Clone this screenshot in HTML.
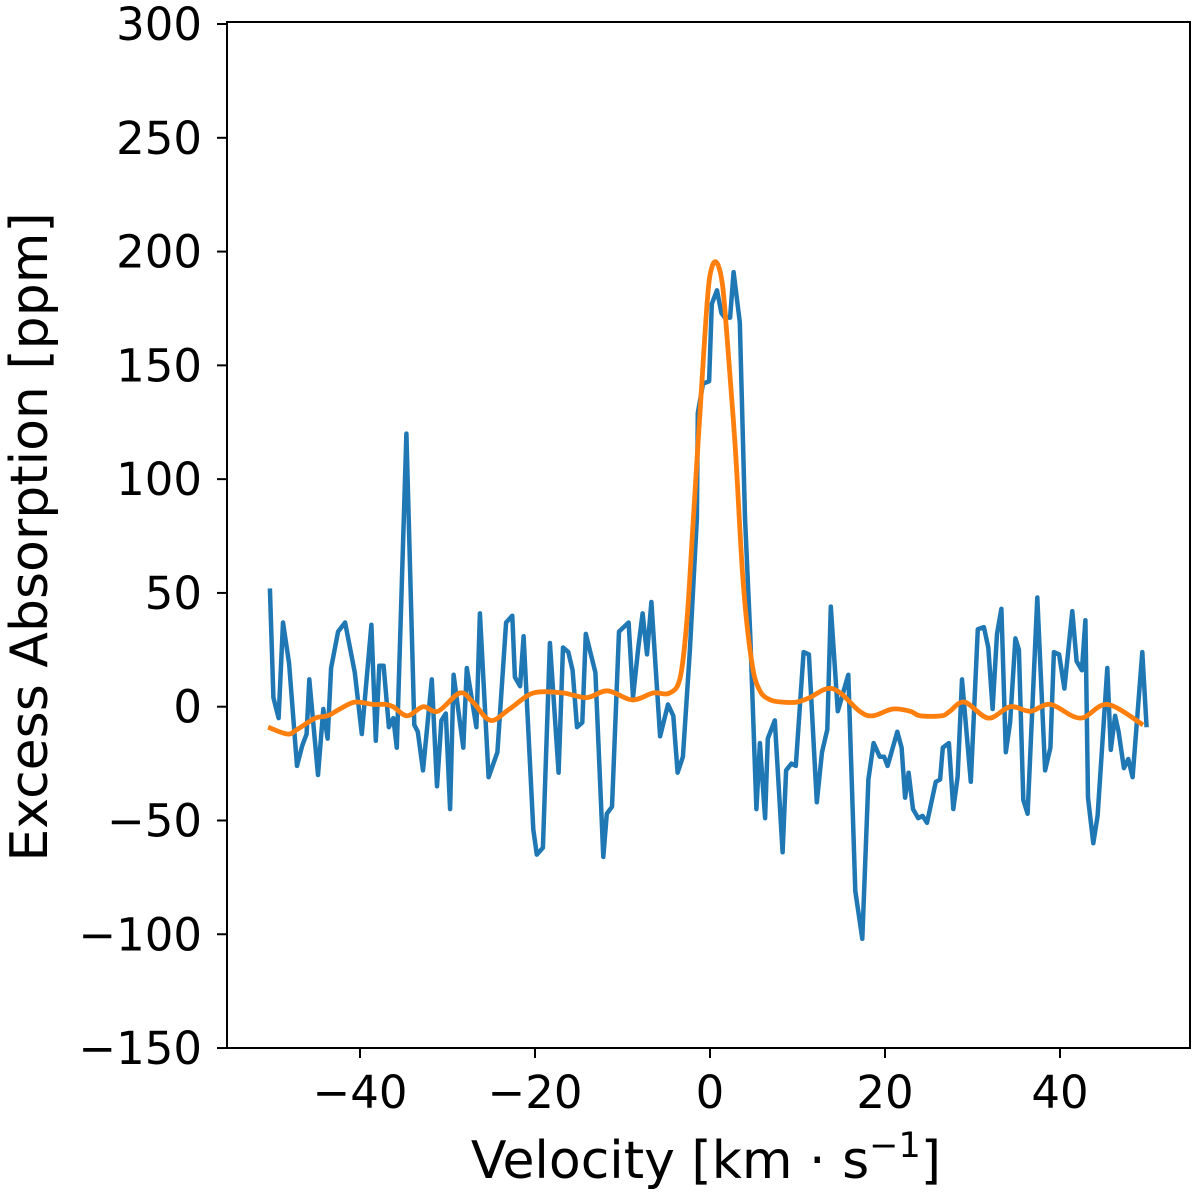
<!DOCTYPE html>
<html><head><meta charset="utf-8"><style>
body{margin:0;background:#fff;}
svg text{font-family:"DejaVu Sans","Liberation Sans",sans-serif;fill:#000;}
</style></head><body>
<svg id="chart" width="1200" height="1195" viewBox="0 0 1200 1195" xmlns="http://www.w3.org/2000/svg">
<g id="plot"></g>
<g id="axes"></g>
<text x="706" y="1178" font-size="52" text-anchor="middle">Velocity [km · s<tspan font-size="35" dy="-21">−1</tspan><tspan dy="21">]</tspan></text>
<text transform="translate(47,537) rotate(-90)" font-size="52" text-anchor="middle">Excess Absorption [ppm]</text>
</svg>
<script>
const xTicks=[-40,-20,0,20,40];
const xTickLabels=["−40","−20","0","20","40"];
const yTicks=[-150,-100,-50,0,50,100,150,200,250,300];
const yTickLabels=["−150","−100","−50","0","50","100","150","200","250","300"];
const obsVel=[-50.3,-49.9,-49.3,-48.8,-48.1,-47.2,-46.6,-46.1,-45.8,-44.8,-44.2,-43.7,-43.3,-42.5,-41.7,-40.6,-39.8,-38.7,-38.2,-37.8,-37.3,-36.7,-36.2,-35.8,-34.7,-33.8,-33.4,-32.8,-31.8,-31.2,-30.7,-30.2,-29.7,-29.3,-28.2,-27.8,-26.7,-26.3,-25.3,-24.3,-23.3,-22.6,-22.3,-21.7,-21.3,-20.2,-19.8,-19.1,-18.3,-17.3,-16.8,-16.2,-15.7,-15.2,-14.6,-14.2,-13.1,-12.2,-11.8,-11.2,-10.4,-9.3,-8.8,-8.2,-7.7,-7.2,-6.7,-5.7,-4.8,-4.2,-3.7,-3.1,-2.3,-1.5,-1.4,-0.8,-0.1,0.2,0.8,1.3,1.7,2.3,2.7,3.4,4.0,4.6,5.3,5.7,6.3,6.6,7.4,8.3,8.7,9.3,9.8,10.7,11.3,12.2,12.8,13.4,13.8,14.6,15.8,16.6,17.4,18.1,18.7,19.4,19.9,20.3,21.4,21.9,22.3,22.7,23.2,23.8,24.3,24.8,25.8,26.3,26.6,27.3,27.8,28.3,28.8,29.8,30.6,31.3,31.8,32.3,32.8,33.3,33.8,34.3,34.9,35.3,35.8,36.3,37.4,38.3,38.9,39.3,39.9,40.5,41.4,41.9,42.5,42.9,43.2,43.8,44.3,45.4,45.8,46.3,46.7,47.3,47.8,48.3,49.4,49.9];
const obsVal=[52,4,-5,37,19,-26,-17,-12,12,-30,-1,-14,17,33,37,15,-12,36,-15,18,18,-9,-5,-18,120,-8,-11,-28,12,-35,-6,-3,-45,14,-18,17,-9,41,-31,-20,37,40,13,9,31,-54,-65,-62,28,-29,26,24,16,-9,-7,32,15,-66,-47,-44,33,37,4,26,41,23,46,-13,1,-4,-29,-22,25,83,129,142,143,177,183,173,171,171,191,169,83,31,-45,-16,-49,-14,-6,-64,-28,-25,-26,24,23,-42,-20,-10,44,-2,14,-81,-102,-32,-16,-22,-22,-26,-11,-18,-40,-29,-45,-49,-48,-51,-33,-32,-18,-16,-45,-31,12,-33,34,35,26,-1,32,43,-20,-7,30,25,-41,-47,48,-28,-18,24,23,8,42,20,16,38,-40,-60,-48,17,-19,-4,-11,-27,-23,-31,24,-9];
const modelVel=[-50.5,-48.3,-47.2,-45.1,-43.7,-42.3,-40.6,-38.5,-37.1,-36.2,-34.6,-32.8,-31.1,-28.6,-27.1,-25.1,-22.9,-20.2,-16.8,-14.1,-11.7,-8.9,-6.5,-4.6,-3.4,-2.6,-1.9,-1.1,-0.3,0.2,0.8,1.4,1.9,2.9,3.8,4.8,5.7,6.9,8.3,9.9,11.4,13.4,14.9,17.1,18.6,20.9,22.9,24.0,26.5,27.4,29.1,31.8,34.3,36.6,38.9,42.3,45.4,49.5];
const modelVal=[-9,-12,-10,-5,-4,-1,2,1,1,0,-4,0,-2,6,2,-6,-1,6,6,4,7,3,6,6,13,40,83,132,179,193,195,186,165,113,54,19,7,3,2,2,4,8,6,-2,-4,-1,-2,-4,-4,-2,2,-5,0,-2,1,-5,1,-8];

const L=227,R=1190,T=22,B=1048;
function xs(v){return 710+v*8.75;}
function ys(v){return 706.7-v*2.2756;}
const NS="http://www.w3.org/2000/svg";
const plot=document.getElementById('plot'),axes=document.getElementById('axes');
function mk(tag,attrs,parent){const e=document.createElementNS(NS,tag);for(const k in attrs)e.setAttribute(k,attrs[k]);parent.appendChild(e);return e;}

let d=obsVel.map((v,i)=>(i?'L':'M')+xs(v).toFixed(1)+','+ys(obsVal[i]).toFixed(1)).join('');
const obs=mk('path',{d:d,fill:'none',stroke:'#1f77b4','stroke-width':4.5,'stroke-linejoin':'round'},plot);



const P=modelVel.map((v,i)=>[xs(v),ys(modelVal[i])]);
let md='M'+P[0][0]+','+P[0][1];
for(let i=0;i<P.length-1;i++){const p0=P[Math.max(0,i-1)],p1=P[i],p2=P[i+1],p3=P[Math.min(P.length-1,i+2)];
md+='C'+(p1[0]+(p2[0]-p0[0])/6).toFixed(1)+','+(p1[1]+(p2[1]-p0[1])/6).toFixed(1)+' '+(p2[0]-(p3[0]-p1[0])/6).toFixed(1)+','+(p2[1]-(p3[1]-p1[1])/6).toFixed(1)+' '+p2[0].toFixed(1)+','+p2[1].toFixed(1);}
const mod=mk('path',{d:md,fill:'none',stroke:'#ff7f0e','stroke-width':4.8,'stroke-linejoin':'round'},plot);



const frame=mk('rect',{x:L,y:T,width:R-L,height:B-T,fill:'none',stroke:'#000','stroke-width':2},axes);


xTicks.forEach((t,i)=>{
 const tk=mk('line',{x1:xs(t),x2:xs(t),y1:B,y2:B+10,stroke:'#000','stroke-width':2},axes);
 
 
 const tx=mk('text',{x:xs(t),y:1108,'font-size':45,'text-anchor':'middle'},axes);
 tx.textContent=xTickLabels[i];
 
 
});
yTicks.forEach((t,i)=>{
 const tk=mk('line',{x1:L-10,x2:L,y1:ys(t),y2:ys(t),stroke:'#000','stroke-width':2},axes);
 
 
 const tx=mk('text',{x:202,y:ys(t)+16,'font-size':45,'text-anchor':'end'},axes);
 tx.textContent=yTickLabels[i];
 
 
});
</script>
</body></html>
